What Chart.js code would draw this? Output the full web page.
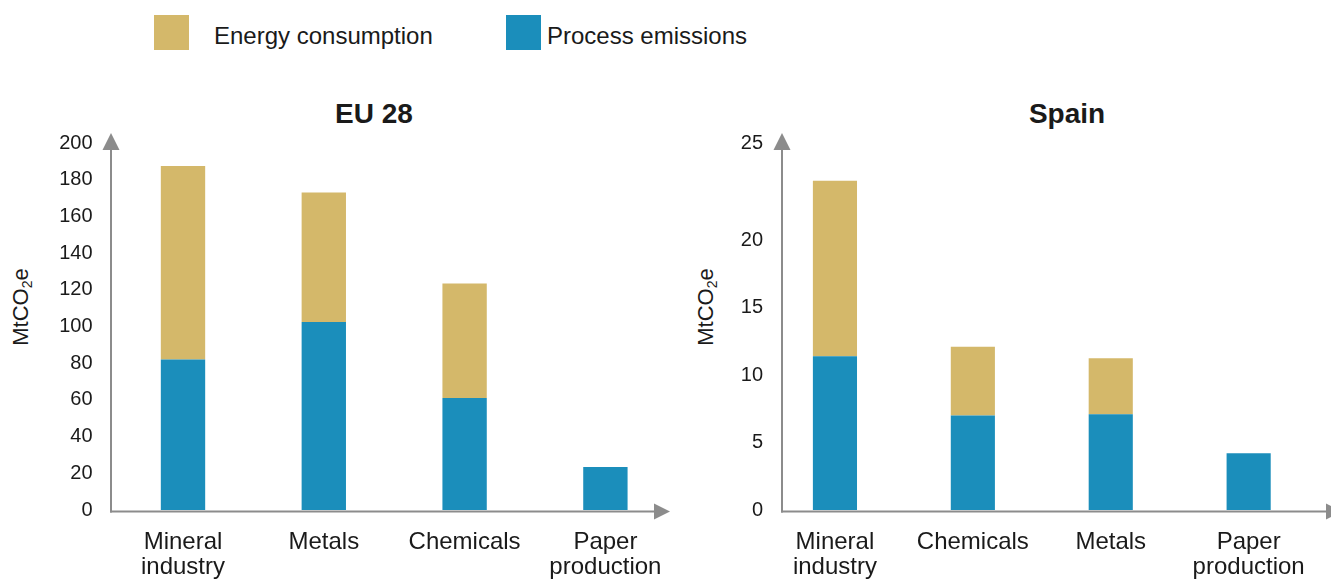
<!DOCTYPE html>
<html>
<head>
<meta charset="utf-8">
<script src="https://cdn.jsdelivr.net/npm/chart.js@4/dist/chart.umd.min.js"></script>
<style>
  html, body { margin: 0; padding: 0; background: #ffffff; }
  body { width: 1331px; height: 579px; position: relative; overflow: hidden; font-family: "Liberation Sans", Arial, sans-serif; color: #1a1a1a; }
  canvas { position: absolute; top: 0; }
  .sw { position: absolute; width: 35px; height: 35px; top: 15px; }
  .lg { position: absolute; top: 23px; font-size: 24px; line-height: 26px; white-space: nowrap; }
  .ttl { position: absolute; top: 98px; font-size: 28px; font-weight: bold; line-height: 32px; transform: translateX(-50%); white-space: nowrap; }
  .ytl { position: absolute; top: 307px; font-size: 22px; line-height: 24px; white-space: nowrap; transform: translate(-50%, -50%) rotate(-90deg); }
  .ytl sub { font-size: 14px; vertical-align: -4px; line-height: 0; }
</style>
</head>
<body>
<div class="sw" id="sw0" style="left:154px;"></div>
<div class="lg" id="lg0" style="left:214px;"></div>
<div class="sw" id="sw1" style="left:506px;"></div>
<div class="lg" id="lg1" style="left:547px;"></div>
<div class="ttl" id="t0" style="left:374px;"></div>
<div class="ttl" id="t1" style="left:1067px;"></div>
<div class="ytl" style="left:21px;">MtCO<sub>2</sub>e</div>
<div class="ytl" style="left:706px;">MtCO<sub>2</sub>e</div>
<canvas id="c0" width="700" height="579" style="left:0px;"></canvas>
<canvas id="c1" width="631" height="579" style="left:700px;"></canvas>
<script>
// ---------- data ----------
const chartTitles = ['EU 28', 'Spain'];
const seriesNames = ['Process emissions', 'Energy consumption'];
const seriesColors = ['#1B8EBB', '#D4B86A'];

const categoriesEU = [['Mineral', 'industry'], 'Metals', 'Chemicals', ['Paper', 'production']];
const processEU = [82, 102.5, 61, 23.5];
const energyEU = [105.5, 70.5, 62.5, 0];
const ticksEU = [0, 20, 40, 60, 80, 100, 120, 140, 160, 180, 200];

const categoriesES = [['Mineral', 'industry'], 'Chemicals', 'Metals', ['Paper', 'production']];
const processES = [11.4, 7.0, 7.1, 4.2];
const energyES = [13.0, 5.1, 4.15, 0];
const ticksES = [0, 5, 10, 15, 20, 25];

// ---------- HTML legend & titles ----------
document.getElementById('sw0').style.background = seriesColors[1];
document.getElementById('lg0').textContent = seriesNames[1];
document.getElementById('sw1').style.background = seriesColors[0];
document.getElementById('lg1').textContent = seriesNames[0];
document.getElementById('t0').textContent = chartTitles[0];
document.getElementById('t1').textContent = chartTitles[1];

// ---------- axes with arrows ----------
const arrowAxes = {
  id: 'arrowAxes',
  afterDatasetsDraw(chart, args, opts) {
    const ctx = chart.ctx;
    const a = chart.chartArea;
    const ax = a.left + opts.axisOffset;
    const ay = a.bottom + 1.5;
    const col = '#8c8c8c';
    ctx.save();
    ctx.strokeStyle = col;
    ctx.fillStyle = col;
    ctx.lineWidth = 2;
    // y axis
    const yTip = a.top - 10;
    ctx.beginPath();
    ctx.moveTo(ax, ay + 1);
    ctx.lineTo(ax, yTip + 14);
    ctx.stroke();
    ctx.beginPath();
    ctx.moveTo(ax, yTip);
    ctx.lineTo(ax - 8.5, yTip + 17);
    ctx.lineTo(ax + 8.5, yTip + 17);
    ctx.closePath();
    ctx.fill();
    // x axis
    const xTip = a.right + opts.xTipOffset;
    ctx.beginPath();
    ctx.moveTo(ax - 1, ay);
    ctx.lineTo(xTip - 14, ay);
    ctx.stroke();
    ctx.beginPath();
    ctx.moveTo(xTip, ay);
    ctx.lineTo(xTip - 16, ay - 8);
    ctx.lineTo(xTip - 16, ay + 8);
    ctx.closePath();
    ctx.fill();
    ctx.restore();
  }
};

function makeChart(id, cats, proc, energy, tickVals, yMax, yWidth, padRight, axisOffset, xTipOffset, barPct) {
  return new Chart(document.getElementById(id), {
    type: 'bar',
    data: {
      labels: cats,
      datasets: [
        { label: seriesNames[0], data: proc, backgroundColor: seriesColors[0], borderWidth: 0 },
        { label: seriesNames[1], data: energy, backgroundColor: seriesColors[1], borderWidth: 0 }
      ]
    },
    options: {
      responsive: false,
      animation: false,
      devicePixelRatio: 1,
      layout: { padding: { top: 143, right: padRight, bottom: 0, left: 0 } },
      datasets: { bar: { categoryPercentage: 1, barPercentage: barPct } },
      plugins: {
        legend: { display: false },
        title: { display: false },
        tooltip: { enabled: false },
        arrowAxes: { axisOffset: axisOffset, xTipOffset: xTipOffset }
      },
      scales: {
        x: {
          stacked: true,
          grid: { display: false, drawTicks: false },
          border: { display: false },
          ticks: {
            color: '#1a1a1a',
            padding: 20,
            maxRotation: 0,
            autoSkip: false,
            font: { family: '"Liberation Sans", Arial, sans-serif', size: 24, lineHeight: '25px' }
          },
          afterFit(scale) { scale.height = 579 - 510; }
        },
        y: {
          stacked: true,
          min: 0,
          max: yMax,
          grid: { display: false, drawTicks: false },
          border: { display: false },
          afterBuildTicks(scale) {
            scale.ticks = tickVals.map((v, i) => ({ value: i === tickVals.length - 1 ? scale.max : v }));
          },
          ticks: {
            color: '#1a1a1a',
            padding: yWidth.pad,
            font: { family: '"Liberation Sans", Arial, sans-serif', size: 20 },
            callback: (value, index) => String(tickVals[index])
          },
          afterFit(scale) { scale.width = yWidth.w; }
        }
      }
    },
    plugins: [arrowAxes]
  });
}

// left chart: chart area x 112.6..675.8, y 143..510
makeChart('c0', categoriesEU, processEU, energyEU, ticksEU, ticksEU[ticksEU.length - 1],
  { w: 112.6, pad: 20 }, 700 - 675.8, -1.6, -5.8, 0.315);
// right chart: canvas at 700; chart area x 766..1317.6
makeChart('c1', categoriesES, processES, energyES, ticksES, 27.2,
  { w: 66, pad: 3 }, 631 - 617.6, 16, 24.4, 0.32);
</script>
</body>
</html>
